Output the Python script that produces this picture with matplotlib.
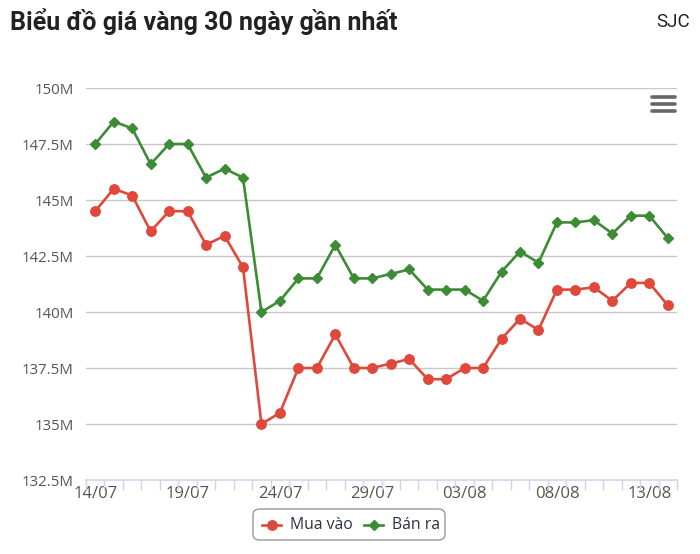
import matplotlib
matplotlib.use("Agg")
import matplotlib.pyplot as plt
from matplotlib.patches import FancyBboxPatch
from matplotlib.lines import Line2D

dates = ["14/07", "15/07", "16/07", "17/07", "18/07", "19/07", "20/07", "21/07",
         "22/07", "23/07", "24/07", "25/07", "26/07", "27/07", "28/07", "29/07",
         "30/07", "31/07", "01/08", "02/08", "03/08", "04/08", "05/08", "06/08",
         "07/08", "08/08", "09/08", "10/08", "11/08", "12/08", "13/08", "14/08"]
mua_vao = [144.5, 145.5, 145.2, 143.6, 144.5, 144.5, 143.0, 143.4, 142.0, 135.0,
           135.5, 137.5, 137.5, 139.0, 137.5, 137.5, 137.7, 137.9, 137.0, 137.0,
           137.5, 137.5, 138.8, 139.7, 139.2, 141.0, 141.0, 141.1, 140.5, 141.3,
           141.3, 140.3]
ban_ra = [147.5, 148.5, 148.2, 146.6, 147.5, 147.5, 146.0, 146.4, 146.0, 140.0,
          140.5, 141.5, 141.5, 143.0, 141.5, 141.5, 141.7, 141.9, 141.0, 141.0,
          141.0, 140.5, 141.8, 142.7, 142.2, 144.0, 144.0, 144.1, 143.5, 144.3,
          144.3, 143.3]
y_ticks = [132.5, 135, 137.5, 140, 142.5, 145, 147.5, 150]
y_labels = ["132.5M", "135M", "137.5M", "140M", "142.5M", "145M", "147.5M", "150M"]
label_every = 5
series_names = ["Mua vào", "Bán ra"]

RED = "#e0483b"
GREEN = "#3e8b35"
W, H = 700, 554
fig = plt.figure(figsize=(W / 100, H / 100), dpi=100)
fig.patch.set_facecolor("white")

left, right, top, bottom = 86, 677, 88, 480
ax = fig.add_axes([left / W, (H - bottom) / H, (right - left) / W, (bottom - top) / H])
x = list(range(len(dates)))

ax.set_xlim(-0.5, len(dates) - 0.5)
ax.set_ylim(132.5, 150)
for yv in y_ticks[1:]:
    ax.axhline(yv, color="#c8c8c8", lw=1.0, zorder=1)

ax.plot(x, ban_ra, color=GREEN, lw=1.9, marker="D", ms=5.2, zorder=3)
ax.plot(x, mua_vao, color=RED, lw=1.9, marker="o", ms=6.8, zorder=3)

for s in ["top", "right", "left"]:
    ax.spines[s].set_visible(False)
ax.spines["bottom"].set_color("#ccd6eb")
ax.spines["bottom"].set_linewidth(1.2)

ax.set_yticks(y_ticks)
ax.set_yticklabels(y_labels, fontsize=10.8, color="#555555", family="Open Sans")
ax.tick_params(axis="y", length=0, pad=9)

ax.set_xticks(x[::label_every])
ax.set_xticklabels(dates[::label_every], fontsize=12, color="#555555", family="Open Sans")
ax.tick_params(axis="x", length=0, pad=4)
ax.set_xticks([i - 0.5 for i in range(len(dates) + 1)], minor=True)
ax.tick_params(axis="x", which="minor", length=7, color="#ccd6eb", width=1)

# Title and source
fig.text(10 / W, 1 - 22 / H, "Biểu đồ giá vàng 30 ngày gần nhất", fontsize=18,
         fontweight="bold", family="Roboto", color="#222222", va="center", ha="left")
fig.text(690 / W, 1 - 22 / H, "SJC", fontsize=13.5, family="Roboto", color="#222222",
         va="center", ha="right")

# Menu icon
for yy in [97, 104, 111]:
    fig.add_artist(Line2D([652 / W, 675 / W], [1 - yy / H, 1 - yy / H],
                          color="#666666", lw=2.6, solid_capstyle="round"))

# Legend
box = FancyBboxPatch((253 / W, 1 - 540 / H), (445 - 253) / W, 31 / H,
                     boxstyle="round,pad=0,rounding_size=0.01",
                     transform=fig.transFigure, facecolor="white",
                     edgecolor="#999999", lw=1.0)
fig.add_artist(box)
ly = 1 - 525 / H
fig.add_artist(Line2D([262 / W, 281 / W], [ly, ly], color=RED, lw=1.9))
fig.add_artist(Line2D([271.5 / W], [ly], color=RED, marker="o", ms=6.8, lw=0))
fig.text(290 / W, ly, series_names[0], fontsize=11.3, family="Open Sans",
         color="#2b3340", va="center", ha="left")
fig.add_artist(Line2D([364 / W, 383 / W], [ly, ly], color=GREEN, lw=1.9))
fig.add_artist(Line2D([373.5 / W], [ly], color=GREEN, marker="D", ms=5.2, lw=0))
fig.text(392 / W, ly, series_names[1], fontsize=11.3, family="Open Sans",
         color="#2b3340", va="center", ha="left")

fig.savefig("out.png", dpi=100, facecolor="white")
